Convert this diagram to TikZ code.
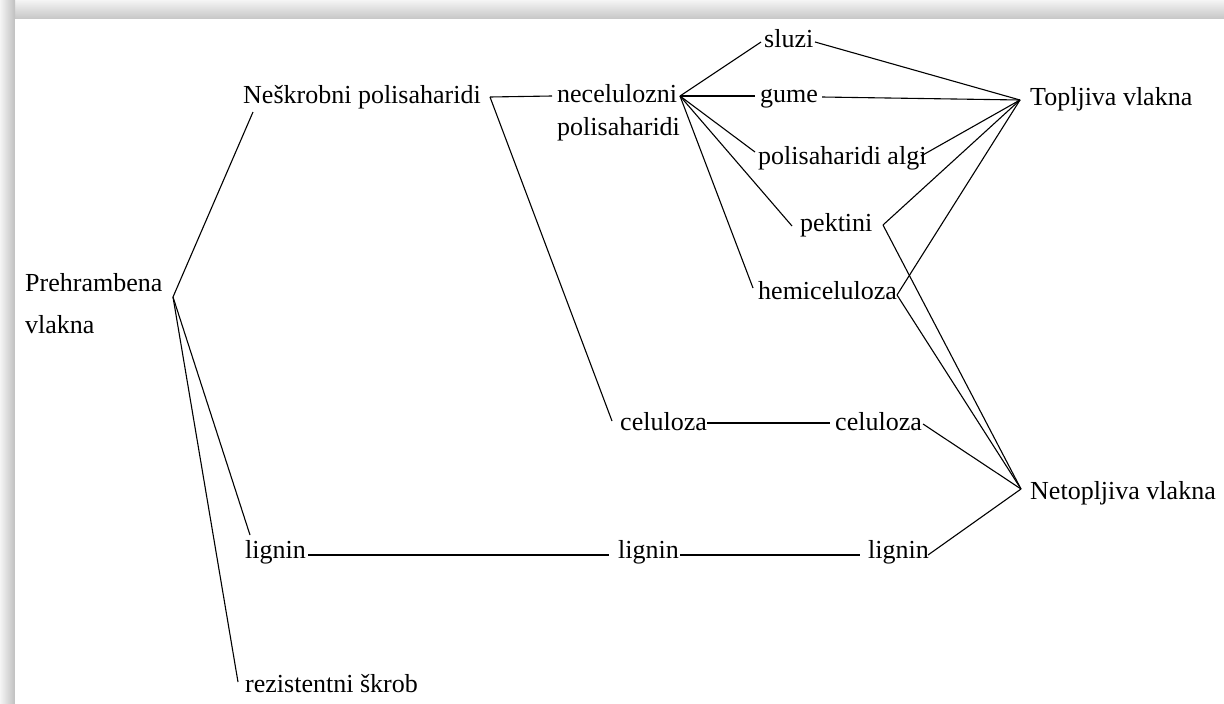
\documentclass[tikz,border=0pt]{standalone}
\usepackage{fontspec}
\setmainfont{Liberation Serif}
\begin{document}
\begin{tikzpicture}[x=1pt,y=-1pt,
  lbl/.style={anchor=base west,inner sep=0pt,font=\fontsize{26}{32}\selectfont},
  conn/.style={draw=black,line width=1.1pt}]
\useasboundingbox (0,0) rectangle (1224,704);
\fill[white] (0,0) rectangle (1224,704);
% frame shadow
\shade[top color=gray!8,bottom color=gray!45] (0,0) rectangle (1224,19);
\shade[left color=gray!8,right color=gray!50] (0,0) rectangle (15,704);
\fill[white] (15,19) rectangle (1224,704);
% nodes
\node[lbl,align=left,font=\fontsize{26}{42}\selectfont] (pv) at (25,333) {Prehrambena\\vlakna};
\node[lbl] (nesk) at (243,103) {Neškrobni polisaharidi};
\node[lbl,align=left,font=\fontsize{26}{33}\selectfont] (nce) at (557,135) {necelulozni\\polisaharidi};
\node[lbl] (sluzi) at (764,47) {sluzi};
\node[lbl] (gume) at (760,102) {gume};
\node[lbl] (algi) at (758,164) {polisaharidi algi};
\node[lbl] (pekt) at (800,231) {pektini};
\node[lbl] (hemi) at (758,299) {hemiceluloza};
\node[lbl] (top) at (1030,105) {Topljiva vlakna};
\node[lbl] (celu1) at (620,430) {celuloza};
\node[lbl] (celu2) at (835,430) {celuloza};
\node[lbl] (net) at (1030,499) {Netopljiva vlakna};
\node[lbl] (lig1) at (245,558) {lignin};
\node[lbl] (lig2) at (618,558) {lignin};
\node[lbl] (lig3) at (868,558) {lignin};
\node[lbl] (rez) at (245,692) {rezistentni škrob};
% connector points
\coordinate (pvR) at (173,297);
\coordinate (neskIn) at (253,112);
\coordinate (neskR) at (490,97);
\coordinate (nceL) at (552,96);
\coordinate (hub) at (680,96);
\coordinate (celu1In) at (612,421);
\coordinate (sluziL) at (761,42);
\coordinate (gumeL) at (755,96);
\coordinate (algiL) at (755,152);
\coordinate (pektL) at (792,226);
\coordinate (hemiL) at (753,288);
\coordinate (sluziR) at (815,42);
\coordinate (gumeR) at (822,97);
\coordinate (algiR) at (921,156);
\coordinate (pektR) at (883,225);
\coordinate (hemiR) at (897,295);
\coordinate (topL) at (1020,100);
\coordinate (celu1R) at (707,423);
\coordinate (celu2L) at (830,423);
\coordinate (celu2R) at (923,424);
\coordinate (netL) at (1021,489);
\coordinate (lig1In) at (250,535);
\coordinate (lig1R) at (308,555);
\coordinate (lig2L) at (609,555);
\coordinate (lig2R) at (680,555);
\coordinate (lig3L) at (860,555);
\coordinate (lig3R) at (928,555);
\coordinate (rezIn) at (238,682);
% connectors
\draw[conn] (pvR) -- (neskIn);
\draw[conn] (pvR) -- (lig1In);
\draw[conn] (pvR) -- (rezIn);
\draw[conn] (neskR) -- (nceL);
\draw[conn] (neskR) -- (celu1In);
\draw[conn] (hub) -- (sluziL);
\draw[conn] (hub) -- (gumeL);
\draw[conn] (hub) -- (algiL);
\draw[conn] (hub) -- (pektL);
\draw[conn] (hub) -- (hemiL);
\draw[conn] (sluziR) -- (topL);
\draw[conn] (gumeR) -- (topL);
\draw[conn] (algiR) -- (topL);
\draw[conn] (pektR) -- (topL);
\draw[conn] (hemiR) -- (topL);
\draw[conn] (pektR) -- (netL);
\draw[conn] (hemiR) -- (netL);
\draw[conn] (celu1R) -- (celu2L);
\draw[conn] (celu2R) -- (netL);
\draw[conn] (lig1R) -- (lig2L);
\draw[conn] (lig2R) -- (lig3L);
\draw[conn] (lig3R) -- (netL);
\end{tikzpicture}
\end{document}
